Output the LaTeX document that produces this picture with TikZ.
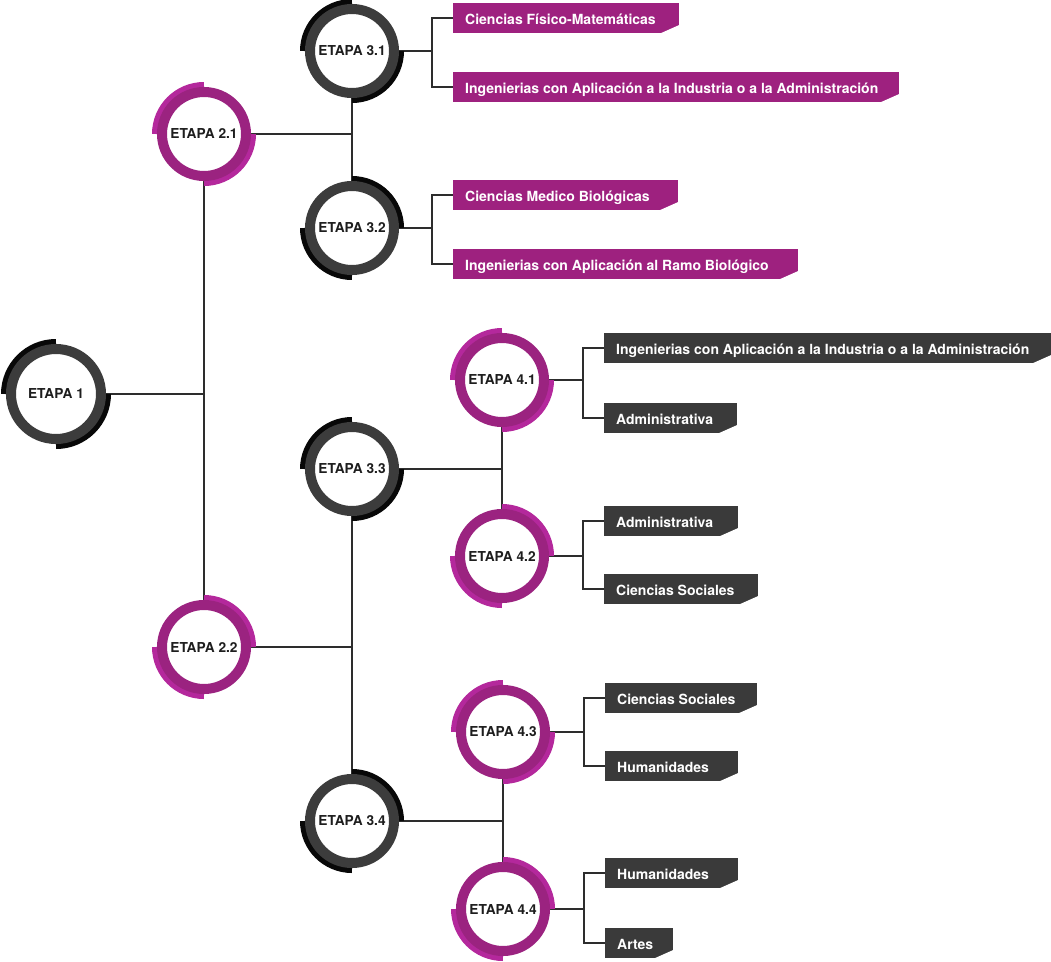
\documentclass[tikz,border=0pt]{standalone}
\usepackage{fontspec}
\setmainfont{TeX Gyre Heros}
\usetikzlibrary{backgrounds,calc}
\definecolor{ringgray}{RGB}{60,60,60}
\definecolor{accblack}{RGB}{8,8,8}
\definecolor{ringmag}{RGB}{155,35,128}
\definecolor{accmag}{RGB}{180,40,156}
\definecolor{boxmag}{RGB}{158,33,127}
\definecolor{boxgray}{RGB}{58,58,58}
\definecolor{textdark}{RGB}{30,30,30}
\definecolor{linecol}{RGB}{45,45,45}
\tikzset{
  stagenode/.style={circle,fill=white,line width=10pt,inner sep=0pt,
    font=\fontsize{13.7}{15}\selectfont\bfseries,text=textdark},
  accentline/.style={line width=8pt},
  conn/.style={draw=linecol,line width=1.8pt},
  labelbox/.style={rectangle,minimum height=30pt,inner sep=0pt,anchor=west,
    path picture={\fill[white] (path picture bounding box.south east) -- ++(-18pt,0pt) -- ++(18pt,8pt) -- cycle;}},
  labeltext/.style={anchor=west,inner sep=0pt,text=white,text height=10pt,text depth=0pt,
    font=\fontsize{14}{16}\selectfont\bfseries}
}
\newcommand{\stage}[7]{%
  \pgfmathsetmacro{\accr}{#7+1}%
  \pgfmathsetmacro{\ringd}{2*#7-10}%
  \coordinate (#1-p) at #2;
  \draw[accentline,#5] ([shift={(#6:\accr pt)}]#1-p) arc[start angle=#6,end angle=#6+90,radius=\accr pt];
  \draw[accentline,#5] ([shift={(#6+180:\accr pt)}]#1-p) arc[start angle=#6+180,end angle=#6+270,radius=\accr pt];
  \node[stagenode,draw=#4,minimum size=\ringd pt] (#1) at (#1-p) {#3};
}
\newcommand{\labelitem}[6]{% name, x, y, width, colour, text
  \node[labelbox,fill=#5,minimum width=#4pt] (#1) at (#2,#3) {};
  \node[labeltext] (#1-t) at ([xshift=12pt,yshift=-1pt]#1.west) {#6};
}
\begin{document}
\begin{tikzpicture}[x=1pt,y=1pt]
\useasboundingbox (0,0) rectangle (1051,-961);
% stages
\stage{c1}{(56,-394)}{ETAPA 1}{ringgray}{accblack}{90}{50}
\stage{c21}{(204,-134)}{ETAPA 2.1}{ringmag}{accmag}{90}{47}
\stage{c22}{(204,-647)}{ETAPA 2.2}{ringmag}{accmag}{0}{47}
\stage{c31}{(352,-51)}{ETAPA 3.1}{ringgray}{accblack}{90}{47}
\stage{c32}{(352,-228)}{ETAPA 3.2}{ringgray}{accblack}{0}{47}
\stage{c33}{(352,-469)}{ETAPA 3.3}{ringgray}{accblack}{90}{47}
\stage{c34}{(352,-821)}{ETAPA 3.4}{ringgray}{accblack}{0}{47}
\stage{c41}{(502,-380)}{ETAPA 4.1}{ringmag}{accmag}{90}{47}
\stage{c42}{(502,-556)}{ETAPA 4.2}{ringmag}{accmag}{0}{47}
\stage{c43}{(503,-732)}{ETAPA 4.3}{ringmag}{accmag}{90}{47}
\stage{c44}{(503,-909)}{ETAPA 4.4}{ringmag}{accmag}{0}{47}
% label boxes
\labelitem{b1}{453}{-18}{226}{boxmag}{Ciencias Físico-Matemáticas}
\labelitem{b2}{453}{-87}{446}{boxmag}{Ingenierias con Aplicación a la Industria o a la Administración}
\labelitem{b3}{453}{-195}{225}{boxmag}{Ciencias Medico Biológicas}
\labelitem{b4}{453}{-264}{345}{boxmag}{Ingenierias con Aplicación al Ramo Biológico}
\labelitem{b5}{604}{-348}{447}{boxgray}{Ingenierias con Aplicación a la Industria o a la Administración}
\labelitem{b6}{604}{-418}{133}{boxgray}{Administrativa}
\labelitem{b7}{604}{-521}{134}{boxgray}{Administrativa}
\labelitem{b8}{604}{-589}{154}{boxgray}{Ciencias Sociales}
\labelitem{b9}{605}{-698}{152}{boxgray}{Ciencias Sociales}
\labelitem{b10}{605}{-766}{133}{boxgray}{Humanidades}
\labelitem{b11}{605}{-873}{133}{boxgray}{Humanidades}
\labelitem{b12}{605}{-943}{68}{boxgray}{Artes}
% bracket corners
\coordinate (k31) at ($(c31)+(80,0)$);
\coordinate (k32) at ($(c32)+(80,0)$);
\coordinate (k41) at ($(c41)+(81,0)$);
\coordinate (k42) at ($(c42)+(81,0)$);
\coordinate (k43) at ($(c43)+(81,0)$);
\coordinate (k44) at ($(c44)+(81,0)$);
\coordinate (j1) at (c21 |- c1);
\coordinate (j21) at (c21 -| c31);
\coordinate (j22) at (c22 -| c33);
\coordinate (j33) at (c33 -| c41);
\coordinate (j34) at (c34 -| c43);
\begin{scope}[on background layer]
  \draw[conn] (c21.center) -- (c22.center);
  \draw[conn] (c1.center) -- (j1);
  \draw[conn] (c31.center) -- (c32.center);
  \draw[conn] (c21.center) -- (j21);
  \draw[conn] (c33.center) -- (c34.center);
  \draw[conn] (c22.center) -- (j22);
  \draw[conn] (c41.center) -- (c42.center);
  \draw[conn] (c33.center) -- (j33);
  \draw[conn] (c43.center) -- (c44.center);
  \draw[conn] (c34.center) -- (j34);
  \draw[conn] (c31.center) -- (k31);
  \draw[conn] (b1.west) -| (k31) |- (b2.west);
  \draw[conn] (c32.center) -- (k32);
  \draw[conn] (b3.west) -| (k32) |- (b4.west);
  \draw[conn] (c41.center) -- (k41);
  \draw[conn] (b5.west) -| (k41) |- (b6.west);
  \draw[conn] (c42.center) -- (k42);
  \draw[conn] (b7.west) -| (k42) |- (b8.west);
  \draw[conn] (c43.center) -- (k43);
  \draw[conn] (b9.west) -| (k43) |- (b10.west);
  \draw[conn] (c44.center) -- (k44);
  \draw[conn] (b11.west) -| (k44) |- (b12.west);
\end{scope}
\end{tikzpicture}
\end{document}
